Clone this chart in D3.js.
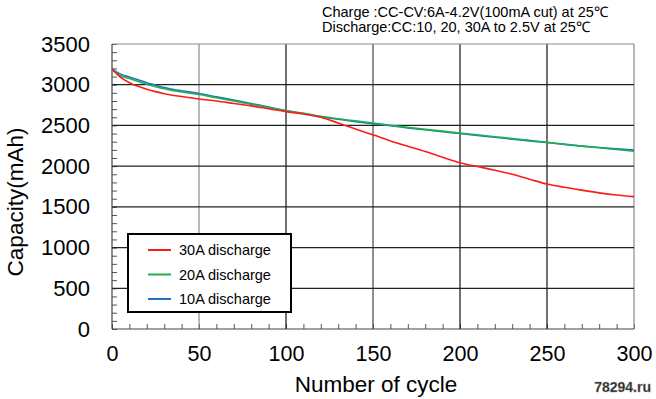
<!DOCTYPE html>
<html>
<head>
<meta charset="utf-8">
<script src="https://cdn.jsdelivr.net/npm/d3@7"></script>
<style>
  body { margin: 0; background: #fff; }
  text { font-family: "Liberation Sans", Arial, sans-serif; }
</style>
</head>
<body>
<div class="chart"></div>
<script>
const cycles = [0, 2, 5, 10, 15, 20, 25, 30, 40, 50, 60, 70, 80, 90, 100, 110, 120, 130, 140, 150,
                160, 170, 180, 190, 200, 210, 220, 230, 240, 250, 260, 270, 280, 290, 300];

const cap30A = [3190, 3150, 3090, 3025, 2980, 2945, 2915, 2890, 2855, 2825, 2800, 2770, 2740, 2705, 2670, 2640, 2600, 2530, 2455, 2385,
                2310, 2245, 2180, 2110, 2042, 1995, 1950, 1900, 1840, 1780, 1740, 1705, 1672, 1645, 1625];
const cap20A = [3190, 3150, 3110, 3075, 3040, 3005, 2975, 2950, 2910, 2880, 2840, 2800, 2760, 2720, 2680, 2650, 2612, 2582, 2556, 2530,
                2502, 2476, 2452, 2430, 2405, 2384, 2360, 2340, 2316, 2292, 2270, 2246, 2225, 2205, 2182];
const cap10A = [3200, 3165, 3130, 3095, 3060, 3025, 2995, 2965, 2925, 2892, 2852, 2812, 2770, 2725, 2682, 2646, 2606, 2576, 2546, 2520,
                2496, 2470, 2446, 2422, 2400, 2376, 2355, 2332, 2310, 2290, 2266, 2246, 2228, 2212, 2197];

const seriesNames = ["30A discharge", "20A discharge", "10A discharge"];
const seriesColors = ["#ff1a1a", "#1fb04c", "#1f73c6"];

const xTicks = [0, 50, 100, 150, 200, 250, 300];
const yTicks = [0, 500, 1000, 1500, 2000, 2500, 3000, 3500];

const w = 656;
const h = 399;
const pLeft = 112, pRight = 634, pTop = 44, pBottom = 329;

const svg = d3.select(".chart")
              .append("svg")
              .attr("width", w)
              .attr("height", h)
              .style("background-color", "white");

const x = d3.scaleLinear().domain([0, 300]).range([pLeft, pRight]);
const y = d3.scaleLinear().domain([0, 3500]).range([pBottom, pTop]);

// minor ticks on the left and bottom, drawn inside the plot
svg.append("g")
   .attr("transform", "translate(" + pLeft + ",0)")
   .call(d3.axisRight(y).tickValues(d3.range(0, 3501, 100)).tickSize(5).tickFormat(""))
   .call(g => g.select(".domain").remove())
   .selectAll("line").attr("stroke", "#555");

svg.append("g")
   .attr("transform", "translate(0," + pBottom + ")")
   .call(d3.axisTop(x).tickValues(d3.range(0, 301, 10)).tickSize(5).tickFormat(""))
   .call(g => g.select(".domain").remove())
   .selectAll("line").attr("stroke", "#555");

// grid
const gridColor = function(v){
  if (v === 50 || v === 300) return "#8a8a8a";
  if (v === 150) return "#444";
  return "#111";
};

svg.append("g")
   .selectAll("line")
   .data(xTicks.filter(d => d > 0))
   .enter()
   .append("line")
   .attr("x1", d => x(d))
   .attr("x2", d => x(d))
   .attr("y1", pTop)
   .attr("y2", pBottom)
   .attr("stroke", d => gridColor(d))
   .attr("stroke-width", 1.2);

svg.append("g")
   .selectAll("line")
   .data(yTicks.filter(d => d > 0))
   .enter()
   .append("line")
   .attr("x1", pLeft)
   .attr("x2", pRight)
   .attr("y1", d => y(d))
   .attr("y2", d => y(d))
   .attr("stroke", d => d === 3500 ? "#8a8a8a" : "#222")
   .attr("stroke-width", 1.2);

// left + bottom axis lines
svg.append("line").attr("x1", pLeft).attr("x2", pLeft).attr("y1", pTop).attr("y2", pBottom)
   .attr("stroke", "#444").attr("stroke-width", 1.2);
svg.append("line").attr("x1", pLeft).attr("x2", pRight).attr("y1", pBottom).attr("y2", pBottom)
   .attr("stroke", "#444").attr("stroke-width", 1.2);

// tick labels
const yAxis = svg.append("g")
   .attr("transform", "translate(" + (pLeft - 22) + ",0)")
   .call(d3.axisLeft(y).tickValues(yTicks).tickSize(0).tickPadding(0).tickFormat(d3.format("d")));
yAxis.select(".domain").remove();
yAxis.selectAll("text")
     .attr("font-size", 22)
     .attr("font-family", "Liberation Sans, Arial, sans-serif")
     .attr("fill", "#000");

const xAxis = svg.append("g")
   .attr("transform", "translate(0," + (pBottom + 17) + ")")
   .call(d3.axisBottom(x).tickValues(xTicks).tickSize(0).tickPadding(0));
xAxis.select(".domain").remove();
xAxis.selectAll("text")
     .attr("font-size", 21.5)
     .attr("font-family", "Liberation Sans, Arial, sans-serif")
     .attr("fill", "#000");

// axis titles
svg.append("text")
   .attr("x", 376)
   .attr("y", 392)
   .attr("text-anchor", "middle")
   .attr("font-size", 22.5)
   .text("Number of cycle");

svg.append("text")
   .attr("transform", "translate(23,202) rotate(-90)")
   .attr("text-anchor", "middle")
   .attr("font-size", 22.5)
   .text("Capacity(mAh)");

// test condition note
svg.append("text").attr("x", 322).attr("y", 17).attr("font-size", 14.5)
   .text("Charge :CC-CV:6A-4.2V(100mA cut) at 25\u2103");
svg.append("text").attr("x", 322).attr("y", 32).attr("font-size", 14.5)
   .text("Discharge:CC:10, 20, 30A to 2.5V at 25\u2103");

// curves
const allSeries = [cap30A, cap20A, cap10A];
const line = d3.line()
               .x((d, i) => x(cycles[i]))
               .y(d => y(d))
               .curve(d3.curveMonotoneX);

svg.append("g")
   .selectAll("path")
   .data([cap10A, cap20A, cap30A])
   .enter()
   .append("path")
   .attr("d", d => line(d))
   .attr("fill", "none")
   .attr("stroke", d => seriesColors[allSeries.indexOf(d)])
   .attr("stroke-width", 1.6);

// legend
const legend = svg.append("g");
legend.append("rect")
      .attr("x", 128).attr("y", 234).attr("width", 163).attr("height", 78)
      .attr("fill", "white").attr("stroke", "#000").attr("stroke-width", 2);

const rows = legend.selectAll("g.row")
      .data(seriesNames)
      .enter()
      .append("g")
      .attr("class", "row")
      .attr("transform", (d, i) => "translate(0," + (250 + i * 24.5) + ")");
rows.append("line")
    .attr("x1", 148).attr("x2", 171)
    .attr("stroke", (d, i) => seriesColors[i])
    .attr("stroke-width", 2);
rows.append("text")
    .attr("x", 179).attr("y", 5)
    .attr("font-size", 14.5)
    .text(d => d);

// watermark
svg.append("text")
   .attr("x", 651).attr("y", 392)
   .attr("text-anchor", "end")
   .attr("font-size", 14)
   .attr("font-weight", "bold")
   .attr("fill", "#222")
   .attr("stroke", "#999")
   .attr("stroke-width", 0.4)
   .text("78294.ru");
</script>
</body>
</html>
